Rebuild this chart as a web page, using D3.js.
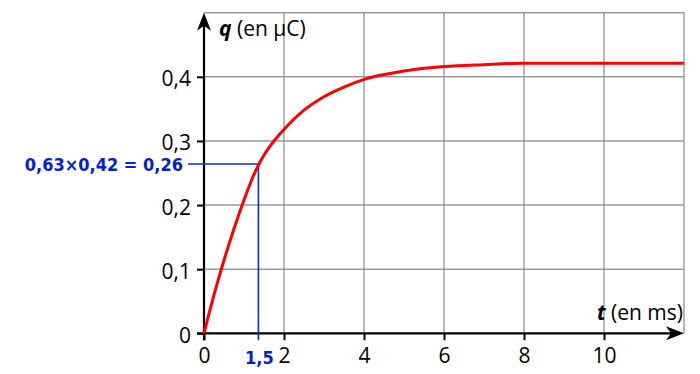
<!DOCTYPE html>
<html>
<head>
<meta charset="utf-8">
<script src="https://cdn.jsdelivr.net/npm/d3@7"></script>
<style>
  body { margin: 0; background: #fff; }
  svg { display: block; }
  .tick text { font-family: "Open Sans", sans-serif; font-size: 21px; fill: #000; }
</style>
</head>
<body>
<svg id="chart" width="700" height="374"></svg>
<script>
// values
let timeMs = [0, 0.25, 0.5, 0.75, 1, 1.25, 1.5, 1.75, 2, 2.5, 3, 3.5, 4, 5, 6, 7, 8, 10, 12]
let chargeUC = [0, 0.060, 0.114, 0.163, 0.208, 0.248, 0.278, 0.300, 0.318, 0.348, 0.369, 0.384, 0.396, 0.409, 0.416, 0.419, 0.421, 0.421, 0.421]
let xTicks = [0, 2, 4, 6, 8, 10]
let yTicks = [0, 0.1, 0.2, 0.3, 0.4]
let xGrid = [2, 4, 6, 8, 10, 12]
let yGrid = [0.1, 0.2, 0.3, 0.4, 0.5]
// where the construction lines sit on the picture
let tauMark = 1.36
let qMark = 0.264
let noteText = '0,63×0,42 = 0,26'
let tauText = '1,5'

let data = timeMs.map(function(t, i) { return {x: t, y: chargeUC[i]} })

let svg = d3.select('#chart')

let x = d3.scaleLinear().domain([0, 12]).range([204, 684])
let y = d3.scaleLinear().domain([0, 0.5]).range([333.3, 12.7])

let fr = d3.formatLocale({decimal: ',', thousands: ' ', grouping: [3], currency: ['', '']})
let fmtY = function(d) { return d == 0 ? '0' : fr.format('.1f')(d) }
let fmtX = function(d) { return fr.format('d')(d) }

// grid
svg.append('g').selectAll('line')
  .data(xGrid).enter().append('line')
  .attr('x1', function(d) { return x(d) })
  .attr('x2', function(d) { return x(d) })
  .attr('y1', y(0.5)).attr('y2', y(0))
  .attr('stroke', '#9a9a9a').attr('stroke-width', 1.4)

svg.append('g').selectAll('line')
  .data(yGrid).enter().append('line')
  .attr('x1', x(0))
  .attr('x2', x(12))
  .attr('y1', function(d) { return y(d) })
  .attr('y2', function(d) { return y(d) })
  .attr('stroke', '#9a9a9a').attr('stroke-width', 1.4)

// axes
let xAxis = svg.append('g')
  .attr('transform', 'translate(0,' + y(0) + ')')
  .call(d3.axisBottom(x).tickValues(xTicks).tickFormat(fmtX).tickSize(7).tickPadding(8))
xAxis.select('.domain').remove()
xAxis.selectAll('.tick line').attr('stroke', '#000').attr('stroke-width', 2)

let yAxis = svg.append('g')
  .attr('transform', 'translate(' + x(0) + ',0)')
  .call(d3.axisLeft(y).tickValues(yTicks).tickFormat(fmtY).tickSize(7).tickPadding(6))
yAxis.select('.domain').remove()
yAxis.selectAll('.tick line').attr('stroke', '#000').attr('stroke-width', 2)
yAxis.selectAll('.tick text').attr('dy', '0.43em')

svg.append('line')
  .attr('x1', x(0) - 7).attr('x2', x(12) - 10)
  .attr('y1', y(0)).attr('y2', y(0))
  .attr('stroke', '#000').attr('stroke-width', 2.2)
svg.append('line')
  .attr('x1', x(0)).attr('x2', x(0))
  .attr('y1', y(0) + 7).attr('y2', y(0.5) + 10)
  .attr('stroke', '#000').attr('stroke-width', 2.2)

// arrow heads
let tx = x(12), ty = y(0)
svg.append('path')
  .attr('d', 'M' + tx + ',' + ty + 'L' + (tx - 18) + ',' + (ty - 7) + 'L' + (tx - 13) + ',' + ty + 'L' + (tx - 18) + ',' + (ty + 7) + 'Z')
  .attr('fill', '#000')
let ax = x(0), ay = y(0.5)
svg.append('path')
  .attr('d', 'M' + ax + ',' + ay + 'L' + (ax - 7) + ',' + (ay + 18) + 'L' + ax + ',' + (ay + 13) + 'L' + (ax + 7) + ',' + (ay + 18) + 'Z')
  .attr('fill', '#000')

// axis titles
let yt = svg.append('text')
  .attr('x', 219).attr('y', 36)
  .attr('font-family', '"Open Sans", sans-serif').attr('font-size', 21)
yt.append('tspan').attr('font-weight', 'bold').attr('font-style', 'italic').text('q')
yt.append('tspan').text(' (en µC)')

let xt = svg.append('text')
  .attr('x', 683).attr('y', 320).attr('text-anchor', 'end')
  .attr('font-family', '"Open Sans", sans-serif').attr('font-size', 21)
xt.append('tspan').attr('font-weight', 'bold').attr('font-style', 'italic').text('t')
xt.append('tspan').text(' (en ms)')

// tau construction
svg.append('path')
  .attr('d', 'M' + 188 + ',' + y(qMark) + 'H' + x(tauMark) + 'V' + (y(0) + 7))
  .attr('fill', 'none').attr('stroke', '#0033cc').attr('stroke-width', 1.6)

svg.append('text')
  .attr('x', 183).attr('y', y(qMark) + 7).attr('text-anchor', 'end')
  .attr('font-family', '"DejaVu Sans Condensed", "DejaVu Sans", sans-serif').attr('font-weight', 'bold').attr('font-size', 18)
  .attr('fill', '#0022cc')
  .text(noteText)

svg.append('text')
  .attr('x', x(tauMark) + 1).attr('y', 363.5).attr('text-anchor', 'middle')
  .attr('font-family', '"DejaVu Sans Condensed", "DejaVu Sans", sans-serif').attr('font-weight', 'bold').attr('font-size', 18)
  .attr('fill', '#0022cc')
  .text(tauText)

// curve
svg.append('path')
  .datum(data)
  .attr('fill', 'none')
  .attr('stroke', '#ff0000')
  .attr('stroke-width', 3)
  .attr('d', d3.line()
    .x(function(d) { return x(d.x) })
    .y(function(d) { return y(d.y) })
    .curve(d3.curveMonotoneX))
</script>
</body>
</html>
